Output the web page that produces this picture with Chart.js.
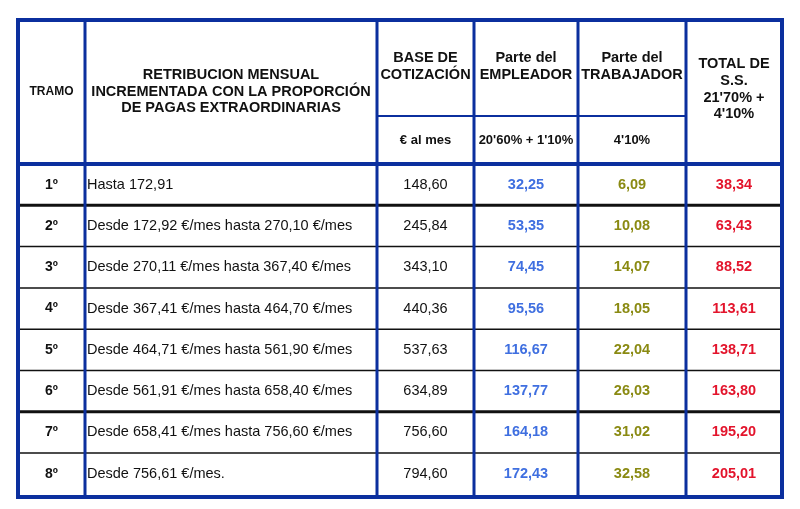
<!DOCTYPE html>
<html><head><meta charset="utf-8">
<script src="https://cdn.jsdelivr.net/npm/chart.js@4/dist/chart.umd.min.js"></script>
<style>html,body{margin:0;padding:0;background:#fff}#w{width:800px;height:509px}</style>
</head><body><div id="w"><canvas id="c"></canvas></div>
<script>
const tramos = ["1º","2º","3º","4º","5º","6º","7º","8º"];
const retribucion = ["Hasta 172,91","Desde 172,92 €/mes hasta 270,10 €/mes","Desde 270,11 €/mes hasta 367,40 €/mes","Desde 367,41 €/mes hasta 464,70 €/mes","Desde 464,71 €/mes hasta 561,90 €/mes","Desde 561,91 €/mes hasta 658,40 €/mes","Desde 658,41 €/mes hasta 756,60 €/mes","Desde 756,61 €/mes."];
const base = ["148,60","245,84","343,10","440,36","537,63","634,89","756,60","794,60"];
const empleador = ["32,25","53,35","74,45","95,56","116,67","137,77","164,18","172,43"];
const trabajador = ["6,09","10,08","14,07","18,05","22,04","26,03","31,02","32,58"];
const total = ["38,34","63,43","88,52","113,61","138,71","163,80","195,20","205,01"];
const headers = [["TRAMO"],["RETRIBUCION MENSUAL","INCREMENTADA CON LA PROPORCIÓN","DE PAGAS EXTRAORDINARIAS"],["BASE DE","COTIZACIÓN"],["Parte del","EMPLEADOR"],["Parte del","TRABAJADOR"],["TOTAL DE","S.S.","21'70% +","4'10%"]];
const subHeaders = ["€ al mes","20'60% + 1'10%","4'10%"];

// layout (pixel-space of the axes)
const colX = [18,85,377,474,578,686,782];
const tableTop = 20, subY = 116, headBottom = 164, rowH = 41.3, tableBottom = 497;
const F = '"Liberation Sans Narrow","Liberation Sans",Arial,sans-serif';
const BLUE = '#0b2f9e';

const tablePlugin = {
  id:'table',
  afterDraw(chart){
    const ctx = chart.ctx, xs = chart.scales.x, ys = chart.scales.y;
    const X = v=>xs.getPixelForValue(v), Y = v=>ys.getPixelForValue(v);
    ctx.save();
    ctx.textBaseline='middle';
    const line=(x1,y1,x2,y2,c,w)=>{ctx.strokeStyle=c;ctx.lineWidth=w;ctx.beginPath();ctx.moveTo(X(x1),Y(y1));ctx.lineTo(X(x2),Y(y2));ctx.stroke();};
    const txt=(s,x,y,c,bold,size,align)=>{ctx.fillStyle=c;ctx.font=(bold?'bold ':'')+size+'px '+F;ctx.textAlign=align||'center';ctx.fillText(s,X(x),Y(y));};
    for(let i=1;i<tramos.length;i++){
      const y=headBottom+i*rowH;
      line(colX[0],y,colX[6],y,'#111',(i===1||i===6)?3:1.5);
    }
    line(colX[2],subY,colX[5],subY,BLUE,2);
    line(colX[0],headBottom,colX[6],headBottom,BLUE,4);
    for(let i=1;i<6;i++) line(colX[i],tableTop,colX[i],tableBottom,BLUE,3);
    ctx.strokeStyle=BLUE;ctx.lineWidth=4;
    ctx.strokeRect(X(colX[0]),Y(tableTop),X(colX[6])-X(colX[0]),Y(tableBottom)-Y(tableTop));
    const hy=[ [92],[75,92,108],[58,75],[58,75],[58,75],[64,81,98,114] ];
    headers.forEach((h,i)=>{
      const cx=(colX[i]+colX[i+1])/2;
      h.forEach((s,j)=>txt(s,cx,hy[i][j],'#111',true,i===0?12:14.5));
    });
    subHeaders.forEach((s,i)=>txt(s,(colX[i+2]+colX[i+3])/2,140,'#111',true,13));
    tramos.forEach((t,i)=>{
      const cy=headBottom+(i+0.5)*rowH;
      txt(t,(colX[0]+colX[1])/2,cy,'#111',true,14);
      txt(retribucion[i],colX[1]+2,cy,'#111',false,14.5,'left');
      txt(base[i],(colX[2]+colX[3])/2,cy,'#111',false,14.5);
      txt(empleador[i],(colX[3]+colX[4])/2,cy,'#3f6fe0',true,14.5);
      txt(trabajador[i],(colX[4]+colX[5])/2,cy,'#8a8a12',true,14.5);
      txt(total[i],(colX[5]+colX[6])/2,cy,'#e3142c',true,14.5);
    });
    ctx.restore();
  }
};

new Chart(document.getElementById('c'),{
  type:'scatter',
  data:{datasets:[{data:[]}]},
  options:{
    responsive:true,maintainAspectRatio:false,animation:false,
    layout:{padding:0},
    plugins:{legend:{display:false},tooltip:{enabled:false}},
    scales:{
      x:{type:'linear',min:0,max:800,display:false},
      y:{type:'linear',min:0,max:509,reverse:true,display:false}
    }
  },
  plugins:[tablePlugin]
});
</script></body></html>
